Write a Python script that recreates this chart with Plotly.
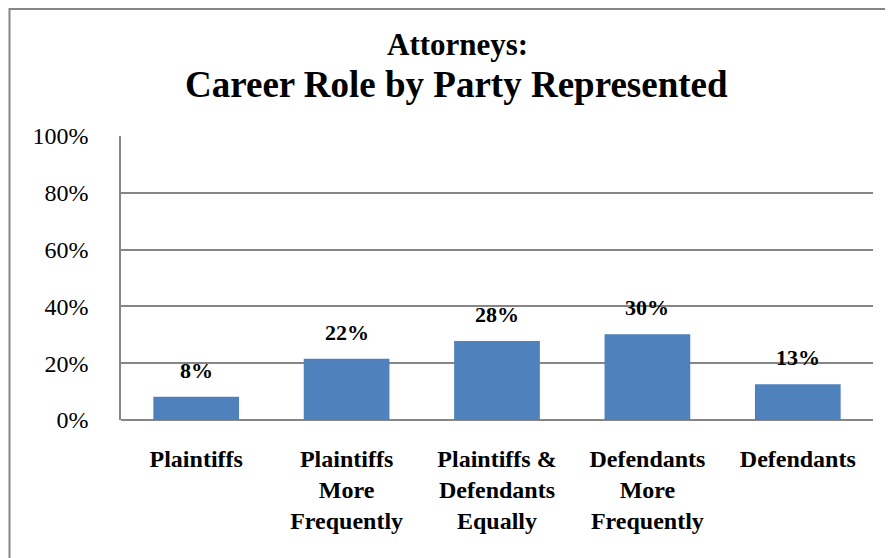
import plotly.graph_objects as go

categories = ["Plaintiffs", "Plaintiffs<br>More<br>Frequently", "Plaintiffs &<br>Defendants<br>Equally",
              "Defendants<br>More<br>Frequently", "Defendants"]
values = [8.2, 21.6, 27.8, 30.2, 12.6]
labels = ["8%", "22%", "28%", "30%", "13%"]
tick_vals = [0, 20, 40, 60, 80, 100]
tick_text = ["0%", "20%", "40%", "60%", "80%", "100%"]

W, H = 893, 558
OFF = 8  # page body margin
ml, mt = 121 - OFF, 136 - OFF
mr = W - (873 - OFF)
mb = H - (420 - OFF)
pw, ph = W - ml - mr, H - mt - mb
SERIF = "Liberation Serif"


def px(xs):
    return (xs - OFF - ml) / pw


def py(ys):
    return 1 - (ys - OFF - mt) / ph


fig = go.Figure()
fig.add_trace(go.Bar(
    x=categories, y=values, marker=dict(color="#4F81BD", line=dict(width=0)),
    width=0.57, showlegend=False, hoverinfo="skip",
))
for c, v, t in zip(categories, values, labels):
    fig.add_annotation(x=c, y=v, text=t, showarrow=False, yanchor="bottom", yshift=12,
                       font=dict(family=SERIF, size=22, color="#000000", weight="bold"))

fig.add_annotation(xref="paper", yref="paper", x=px(457), y=py(44), text="Attorneys:",
                   showarrow=False, yanchor="middle",
                   font=dict(family=SERIF, size=31, color="#000000", weight="bold"))
fig.add_annotation(xref="paper", yref="paper", x=px(456), y=py(84),
                   text="Career Role by Party Represented",
                   showarrow=False, yanchor="middle",
                   font=dict(family=SERIF, size=37, color="#000000", weight="bold"))

# outer chart border
fig.add_shape(type="rect", xref="paper", yref="paper",
              x0=px(9.5), x1=px(W + 20), y0=py(H + 20), y1=py(OFF + 1),
              line=dict(color="#868686", width=2), layer="below")

fig.update_layout(
    width=W, height=H, margin=dict(l=ml, r=mr, t=mt, b=mb, autoexpand=False),
    paper_bgcolor="white", plot_bgcolor="white",
    font=dict(family=SERIF, color="#000000"),
)
fig.update_xaxes(
    showgrid=False, showline=False, zeroline=False, automargin=False,
    tickfont=dict(family=SERIF, size=24, color="#000000", weight="bold"),
    ticklabelstandoff=22, fixedrange=True,
)
fig.update_yaxes(
    range=[0, 100], tickvals=tick_vals, ticktext=tick_text, automargin=False,
    showgrid=True, gridcolor="#868686", gridwidth=1.5,
    showline=True, linecolor="#868686", linewidth=1.5,
    zeroline=True, zerolinecolor="#868686", zerolinewidth=1.5,
    tickfont=dict(family=SERIF, size=24, color="#000000"),
    ticklabelstandoff=26, fixedrange=True,
)
fig.write_html("out.html")
